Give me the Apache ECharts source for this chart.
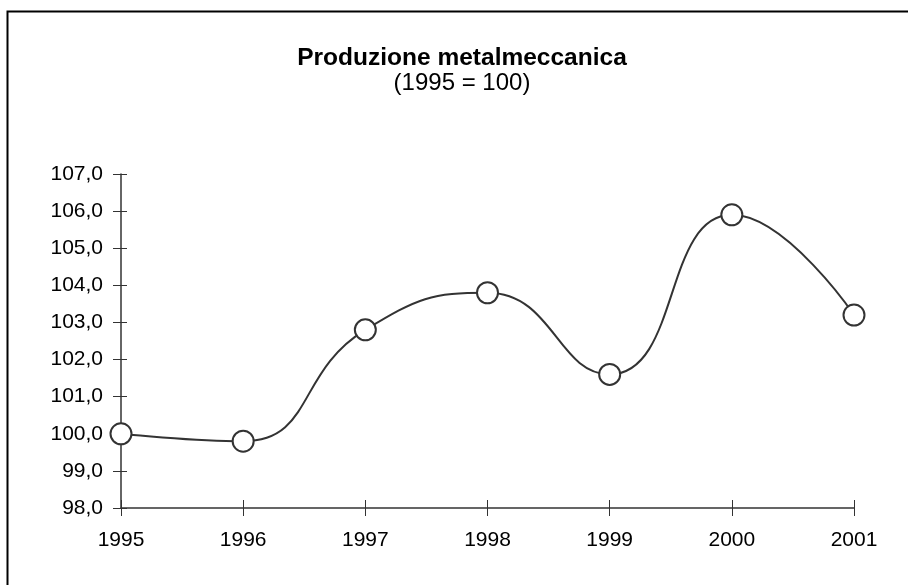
<!DOCTYPE html>
<html>
<head>
<meta charset="utf-8">
<script src="https://cdn.jsdelivr.net/npm/echarts@6/dist/echarts.min.js"></script>
<style>
  html, body { margin: 0; padding: 0; background: #fff; }
  #chart { width: 908px; height: 585px; }
</style>
</head>
<body>
<div id="chart"></div>
<script>
  // dati del grafico
  const years = ['1995', '1996', '1997', '1998', '1999', '2000', '2001']
  const produzione = [100.0, 99.8, 102.8, 103.8, 101.6, 105.9, 103.2]
  const yMin = 98
  const yMax = 107

  const font = 'Liberation Sans, Arial, sans-serif'
  const fmt = v => v.toFixed(1).replace('.', ',')

  var chart = echarts.init(document.getElementById('chart'))
  chart.setOption({
    animation: false,
    backgroundColor: '#fff',
    title: {
      text: 'Produzione metalmeccanica',
      subtext: '(1995 = 100)',
      left: 457,
      textAlign: 'center',
      top: 41,
      itemGap: 0,
      textStyle: { fontFamily: font, fontSize: 24.5, fontWeight: 'bold', color: '#000' },
      subtextStyle: { fontFamily: font, fontSize: 24, color: '#000' }
    },
    // cornice esterna
    graphic: [{
      type: 'rect',
      shape: { x: 7.5, y: 11.5, width: 910, height: 600 },
      style: { fill: 'none', stroke: '#000', lineWidth: 2 },
      silent: true
    }],
    grid: { left: 121, right: 54, top: 174, bottom: 77 },
    xAxis: [{
      type: 'category',
      data: years,
      boundaryGap: false,
      axisLine: { lineStyle: { color: '#333', width: 1.5 } },
      axisTick: { alignWithLabel: true, length: 8, lineStyle: { color: '#333' } },
      axisLabel: { fontFamily: font, fontSize: 21, color: '#000', margin: 22 },
      splitLine: { show: false }
    }, {
      // tacche interne (incrociate)
      type: 'category',
      data: years,
      position: 'bottom',
      boundaryGap: false,
      axisLine: { show: false },
      axisTick: { inside: true, length: 8, lineStyle: { color: '#333' } },
      axisLabel: { show: false },
      splitLine: { show: false }
    }],
    yAxis: [{
      type: 'value',
      min: yMin,
      max: yMax,
      interval: 1,
      axisLine: { show: true, lineStyle: { color: '#333', width: 1.5 } },
      axisTick: { show: true, length: 8, lineStyle: { color: '#333' } },
      axisLabel: { fontFamily: font, fontSize: 21, color: '#000', margin: 18, formatter: fmt },
      splitLine: { show: false }
    }, {
      type: 'value',
      position: 'left',
      min: yMin,
      max: yMax,
      interval: 1,
      axisLine: { show: false },
      axisTick: { show: true, inside: true, length: 6, lineStyle: { color: '#333' } },
      axisLabel: { show: false },
      splitLine: { show: false }
    }],
    series: [{
      name: 'Produzione',
      type: 'line',
      data: produzione,
      smooth: 0.5,
      symbol: 'circle',
      symbolSize: 21,
      lineStyle: { color: '#333', width: 2 },
      itemStyle: { color: '#fff', borderColor: '#333', borderWidth: 2 },
      z: 3
    }]
  })
</script>
</body>
</html>
